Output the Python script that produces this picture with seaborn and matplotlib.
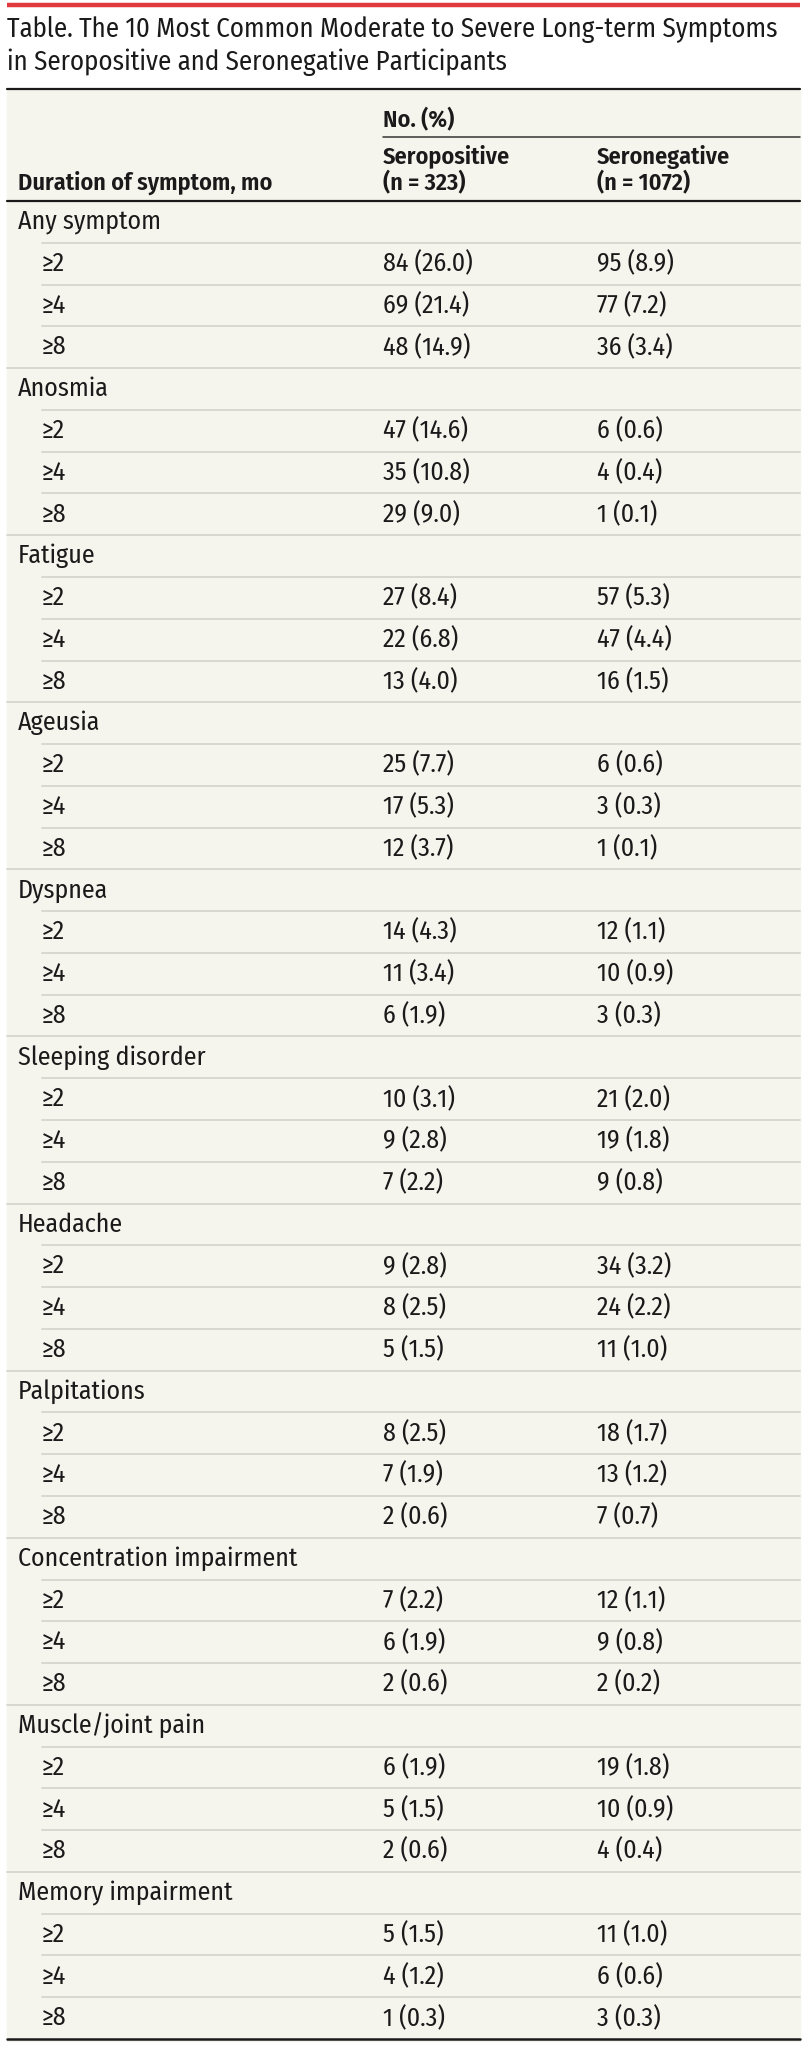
import numpy as np
import pandas as pd
import matplotlib
matplotlib.use("Agg")
import matplotlib.pyplot as plt
from matplotlib import font_manager as fm
import seaborn as sns

sns.set_theme(style="white")

# pick a condensed sans if one is installed, else fall back
installed = {f.name for f in fm.fontManager.ttflist}
prefs = ['Fira Sans Condensed', 'Roboto Condensed', 'Asap Condensed',
         'Archivo Narrow', 'PT Sans Narrow', 'Encode Sans Condensed',
         'IBM Plex Sans Condensed', 'Liberation Sans Narrow', 'Lato']
main_font = next((p for p in prefs if p in installed), 'DejaVu Sans')
plt.rcParams['font.family'] = [main_font, 'DejaVu Sans']

# -----------------------------
# Data
# -----------------------------
symptoms = ['Any symptom', 'Anosmia', 'Fatigue', 'Ageusia', 'Dyspnea',
            'Sleeping disorder', 'Headache', 'Palpitations',
            'Concentration impairment', 'Muscle/joint pain', 'Memory impairment']
durations = ['≥2', '≥4', '≥8']

pos_n = [84, 69, 48, 47, 35, 29, 27, 22, 13, 25, 17, 12, 14, 11, 6,
         10, 9, 7, 9, 8, 5, 8, 7, 2, 7, 6, 2, 6, 5, 2, 5, 4, 1]
pos_pct = [26.0, 21.4, 14.9, 14.6, 10.8, 9.0, 8.4, 6.8, 4.0, 7.7, 5.3, 3.7,
           4.3, 3.4, 1.9, 3.1, 2.8, 2.2, 2.8, 2.5, 1.5, 2.5, 1.9, 0.6,
           2.2, 1.9, 0.6, 1.9, 1.5, 0.6, 1.5, 1.2, 0.3]
neg_n = [95, 77, 36, 6, 4, 1, 57, 47, 16, 6, 3, 1, 12, 10, 3,
         21, 19, 9, 34, 24, 11, 18, 13, 7, 12, 9, 2, 19, 10, 4, 11, 6, 3]
neg_pct = [8.9, 7.2, 3.4, 0.6, 0.4, 0.1, 5.3, 4.4, 1.5, 0.6, 0.3, 0.1,
           1.1, 0.9, 0.3, 2.0, 1.8, 0.8, 3.2, 2.2, 1.0, 1.7, 1.2, 0.7,
           1.1, 0.8, 0.2, 1.8, 0.9, 0.4, 1.0, 0.6, 0.3]

title_lines = ['Table. The 10 Most Common Moderate to Severe Long-term Symptoms',
               'in Seropositive and Seronegative Participants']
col_header = 'Duration of symptom, mo'
group_header = 'No. (%)'
pos_header = 'Seropositive\n(n = 323)'
neg_header = 'Seronegative\n(n = 1072)'

# build table rows: group header followed by its 3 duration rows
rows = []
k = 0
for s in symptoms:
    rows.append({'label': s, 'kind': 'group', 'pos': '', 'neg': ''})
    for d in durations:
        rows.append({'label': d, 'kind': 'sub',
                     'pos': f'{pos_n[k]} ({pos_pct[k]:.1f})',
                     'neg': f'{neg_n[k]} ({neg_pct[k]:.1f})'})
        k += 1
df = pd.DataFrame(rows)

# -----------------------------
# Layout (pixel space)
# -----------------------------
W, H = 806, 2048
left, right = 7, 800
x_lab, x_sub, x_pos, x_neg = 18, 42, 383, 597
head_top = 89
head_bottom = 201
table_bottom = 2039
row_h = (table_bottom - head_bottom) / len(df)

bg = '#f5f4ed'
red = '#e0393e'
ink = '#1a1a1a'
sep = '#d6d5cd'
head_w = 'semibold'

fig = plt.figure(figsize=(W / 100, H / 100), dpi=100)
ax = fig.add_axes([0, 0, 1, 1])
ax.set_xlim(0, W)
ax.set_ylim(H, 0)
ax.axis('off')
renderer = fig.canvas.get_renderer()


def fit_size(text, target_px, weight='normal', base=14):
    t = ax.text(0, 0, text, fontsize=base, fontweight=weight)
    w = t.get_window_extent(renderer).width
    t.remove()
    return base * target_px / w


fs_title = fit_size(title_lines[0], 776)
fs_head = fit_size(col_header, 254, weight=head_w)
fs_body = (fit_size('Any symptom', 136) + fit_size('84 (26.0)', 95)) / 2

# beige table body
ax.add_patch(plt.Rectangle((left, head_top), right - left,
                           table_bottom - head_top + 2, color=bg, zorder=0))

# red top bar and title
ax.plot([left, right], [5, 5], color=red, lw=3.2, solid_capstyle='butt')
ax.text(left, 29, title_lines[0], fontsize=fs_title, color=ink, va='center')
ax.text(left, 62, title_lines[1], fontsize=fs_title, color=ink, va='center')

# header
ax.plot([left, right], [head_top, head_top], color=ink, lw=1.6)
ax.text(x_pos, 120, group_header, fontsize=fs_head, fontweight=head_w,
        color=ink, va='center')
ax.plot([x_pos, right], [137, 137], color='#333333', lw=1.1)
ax.text(x_pos, 170, pos_header, fontsize=fs_head, fontweight=head_w, color=ink,
        va='center', linespacing=1.15)
ax.text(x_neg, 170, neg_header, fontsize=fs_head, fontweight=head_w, color=ink,
        va='center', linespacing=1.15)
ax.text(x_lab, 183, col_header, fontsize=fs_head, fontweight=head_w,
        color=ink, va='center')
ax.plot([left, right], [head_bottom, head_bottom], color=ink, lw=1.6)

# body rows
for i, r in df.iterrows():
    top = head_bottom + i * row_h
    yc = top + row_h / 2
    if r['kind'] == 'group':
        ax.text(x_lab, yc, r['label'], fontsize=fs_body, color=ink, va='center')
        if i > 0:
            ax.plot([left, right], [top, top], color=sep, lw=1.3)
    else:
        ax.text(x_sub, yc, r['label'], fontsize=fs_body, color=ink, va='center')
        ax.text(x_pos, yc, r['pos'], fontsize=fs_body, color=ink, va='center')
        ax.text(x_neg, yc, r['neg'], fontsize=fs_body, color=ink, va='center')
        ax.plot([x_sub, right], [top, top], color=sep, lw=1.3)

ax.plot([left, right], [table_bottom, table_bottom], color=ink, lw=1.8)

fig.savefig('out.png', dpi=100, facecolor='white')
